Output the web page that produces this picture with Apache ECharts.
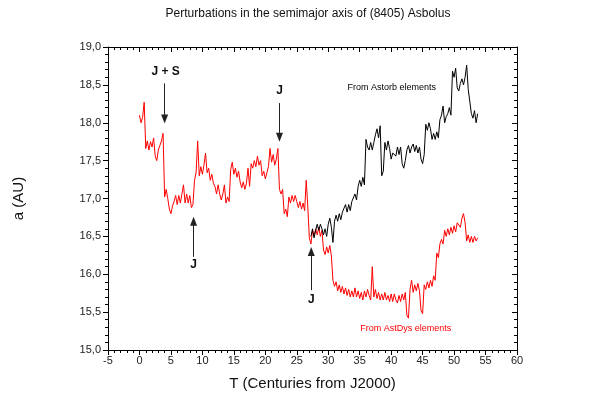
<!DOCTYPE html>
<html><head><meta charset="utf-8">
<script src="https://cdn.jsdelivr.net/npm/echarts@6/dist/echarts.min.js"></script>
<style>html,body{margin:0;padding:0;background:#fff}#c{width:600px;height:420px}</style>
</head><body><div id="c"></div>
<script>
// Time sampling (centuries from J2000)
const redStartT = 0;
const blackStartT = 27.25;
const stepT = 0.25;

// AstDys elements (red), a in AU, one value every 0.25 century from T=0
const redValues = [
  18.10, 18.00, 18.07, 18.27,
  17.66, 17.76, 17.64, 17.75,
  17.68, 17.80, 17.56, 17.50,
  17.64, 17.70, 17.76, 17.86,
  17.02, 17.12, 17.00, 16.86,
  16.80, 16.90, 16.96, 17.04,
  16.92, 17.04, 16.94, 17.06,
  17.18, 16.94, 17.06, 16.94,
  17.04, 16.88, 16.92, 17.24,
  17.34, 17.76, 17.30, 17.42,
  17.32, 17.44, 17.60, 17.34,
  17.40, 17.24, 17.32, 17.20,
  17.16, 17.06, 17.18, 17.06,
  16.98, 17.06, 17.18, 16.94,
  17.02, 16.96, 17.38, 17.48,
  17.32, 17.40, 17.28, 17.36,
  17.22, 17.14, 17.22, 17.12,
  17.20, 17.40, 17.16, 17.46,
  17.40, 17.50, 17.42, 17.56,
  17.44, 17.50, 17.30, 17.36,
  17.26, 17.34, 17.42, 17.66,
  17.48, 17.58, 17.44, 17.52,
  17.66, 17.12, 17.06, 17.12,
  16.80, 16.86, 16.76, 17.02,
  16.94, 17.04, 16.96, 17.04,
  16.96, 16.88, 16.96, 16.86,
  16.94, 16.84, 17.24, 16.90,
  16.48, 16.40, 16.58, 16.50,
  16.60, 16.52, 16.62, 16.50,
  16.58, 16.32, 16.26, 16.36,
  16.28, 16.38, 16.24, 15.92,
  15.84, 15.90, 15.78, 15.86,
  15.76, 15.84, 15.74, 15.82,
  15.72, 15.80, 15.70, 15.78,
  15.70, 15.82, 15.70, 15.78,
  15.68, 15.76, 15.66, 15.78,
  15.70, 15.80, 15.72, 15.66,
  16.10, 15.70, 15.80, 15.68,
  15.76, 15.66, 15.74, 15.66,
  15.76, 15.66, 15.72, 15.64,
  15.74, 15.64, 15.74, 15.66,
  15.62, 15.72, 15.64, 15.74,
  15.66, 15.76, 15.46, 15.42,
  15.80, 15.92, 15.76, 15.86,
  15.78, 15.88, 15.78, 15.52,
  15.48, 15.86, 15.80, 15.90,
  15.82, 15.92, 15.84, 15.98,
  15.92, 16.28, 16.22, 16.40,
  16.46, 16.40, 16.58, 16.50,
  16.60, 16.52, 16.62, 16.54,
  16.64, 16.56, 16.68, 16.70,
  16.62, 16.74, 16.80, 16.68,
  16.44, 16.52, 16.42, 16.50,
  16.42, 16.50, 16.44, 16.48
];

// Astorb elements (black), one value every 0.25 century from T=27.25
const blackValues = [
  16.50, 16.60, 16.48,
  16.58, 16.66, 16.58, 16.66,
  16.60, 16.52, 16.60, 16.50,
  16.66, 16.74, 16.62, 16.42,
  16.70, 16.78, 16.70, 16.80,
  16.72, 16.82, 16.84, 16.92,
  16.82, 16.92, 16.84, 16.96,
  16.96, 17.06, 16.98, 17.16,
  17.24, 17.16, 17.28, 17.18,
  17.78, 17.68, 17.64, 17.74,
  17.64, 17.74, 17.84, 17.92,
  17.80, 17.96, 17.30, 17.36,
  17.74, 17.64, 17.76, 17.66,
  17.52, 17.60, 17.62, 17.56,
  17.68, 17.58, 17.68, 17.46,
  17.40, 17.50, 17.64, 17.70,
  17.60, 17.68, 17.72, 17.62,
  17.70, 17.60, 17.68, 17.52,
  17.46, 17.58, 17.98, 17.90,
  18.00, 17.92, 17.78, 17.86,
  17.78, 17.88, 17.80, 18.04,
  18.10, 18.22, 18.00, 18.08,
  18.12, 18.20, 18.10, 18.68,
  18.60, 18.72, 18.46, 18.42,
  18.52, 18.58, 18.50, 18.60,
  18.76, 18.44, 18.46, 18.12,
  18.06, 18.16, 18.00, 18.12
];

// Axes
const xMin = -5, xMax = 60, xInterval = 5;
const yMin = 15, yMax = 19, yInterval = 0.5;

// Annotations (arrows and their labels), in data coordinates
const annLabels = ['J + S', 'J', 'J', 'J'];
const annTextT = [4.16, 22.25, 8.6, 27.3];
const annTextA = [18.67, 18.42, 16.12, 15.66];
const annArrowT = [4.0, 22.25, 8.6, 27.3];
const annArrowFrom = [18.52, 18.26, 16.23, 15.79];
const annArrowTo = [18.05, 17.81, 16.70, 16.30];

const seriesNotes = ['From Astorb elements', 'From AstDys elements'];
const noteT = [33.05, 35.1];
const noteA = [18.46, 15.29];
const noteColors = ['#000000', '#ff0000'];

const FONT = 'Liberation Sans, Arial, sans-serif';
const chart = echarts.init(document.getElementById('c'), null, {renderer: 'canvas'});

const redData = redValues.map((v, i) => [redStartT + i * stepT, v]);
const blackData = blackValues.map((v, i) => [blackStartT + i * stepT, v]);

function xAxisDef(pos, main) {
  return {
    type: 'value', min: xMin, max: xMax, interval: xInterval, position: pos,
    axisLine: {show: true, onZero: false, lineStyle: {color: '#000', width: 1}},
    axisTick: {show: true, inside: !main, length: 5, lineStyle: {color: '#000'}},
    minorTick: {show: true, splitNumber: 5, length: 3, lineStyle: {color: '#000'}},
    splitLine: {show: false},
    axisLabel: {show: main, color: '#222', fontSize: 11, fontFamily: FONT, margin: 5},
    name: main ? 'T (Centuries from J2000)' : '',
    nameLocation: 'middle', nameGap: 26,
    nameTextStyle: {fontSize: 15, color: '#111', fontFamily: FONT}
  };
}
function yAxisDef(pos, main) {
  return {
    type: 'value', min: yMin, max: yMax, interval: yInterval, position: pos,
    axisLine: {show: true, onZero: false, lineStyle: {color: '#000', width: 1}},
    axisTick: {show: true, inside: !main, length: 5, lineStyle: {color: '#000'}},
    minorTick: {show: true, splitNumber: 5, length: 3, lineStyle: {color: '#000'}},
    splitLine: {show: false},
    axisLabel: {show: main, color: '#222', fontSize: 11, fontFamily: FONT, margin: 7,
      formatter: v => v.toFixed(1).replace('.', ',')},
    name: main ? 'a (AU)' : '',
    nameLocation: 'middle', nameGap: 82,
    nameTextStyle: {fontSize: 15, color: '#111', fontFamily: FONT}
  };
}

chart.setOption({
  animation: false,
  backgroundColor: '#fff',
  title: {
    text: 'Perturbations in the semimajor axis of (8405) Asbolus',
    left: 308, top: 8, padding: 0, textAlign: 'center',
    textStyle: {fontSize: 12, fontWeight: 'normal', color: '#111', fontFamily: FONT}
  },
  grid: {left: 108, right: 83, top: 47, bottom: 70},
  xAxis: [xAxisDef('bottom', true), xAxisDef('top', false)],
  yAxis: [yAxisDef('left', true), yAxisDef('right', false)],
  series: [
    {
      type: 'line', name: 'AstDys', data: redData, showSymbol: false,
      lineStyle: {color: '#ff0000', width: 1}, itemStyle: {color: '#ff0000'},
      z: 2,
      markLine: {
        silent: true, symbol: ['none', 'triangle'], symbolSize: [7, 9],
        lineStyle: {color: '#222', width: 1, type: 'solid'},
        label: {show: false},
        data: annArrowT.map((t, i) => [{coord: [t, annArrowFrom[i]]}, {coord: [t, annArrowTo[i]]}])
      }
    },
    {
      type: 'line', name: 'Astorb', data: blackData, showSymbol: false,
      lineStyle: {color: '#000000', width: 1}, itemStyle: {color: '#000'},
      z: 3
    }
  ]
});

const gfx = [];
annLabels.forEach((s, i) => {
  const p = chart.convertToPixel({xAxisIndex: 0, yAxisIndex: 0}, [annTextT[i], annTextA[i]]);
  gfx.push({type: 'text', x: p[0], y: p[1], style: {text: s, fill: '#111', font: 'bold 12px ' + FONT, align: 'center', verticalAlign: 'middle'}});
});
seriesNotes.forEach((s, i) => {
  const p = chart.convertToPixel({xAxisIndex: 0, yAxisIndex: 0}, [noteT[i], noteA[i]]);
  gfx.push({type: 'text', x: p[0], y: p[1], style: {text: s, fill: noteColors[i], font: '9px ' + FONT, align: 'left', verticalAlign: 'middle'}});
});
chart.setOption({graphic: gfx});
</script>
</body></html>
